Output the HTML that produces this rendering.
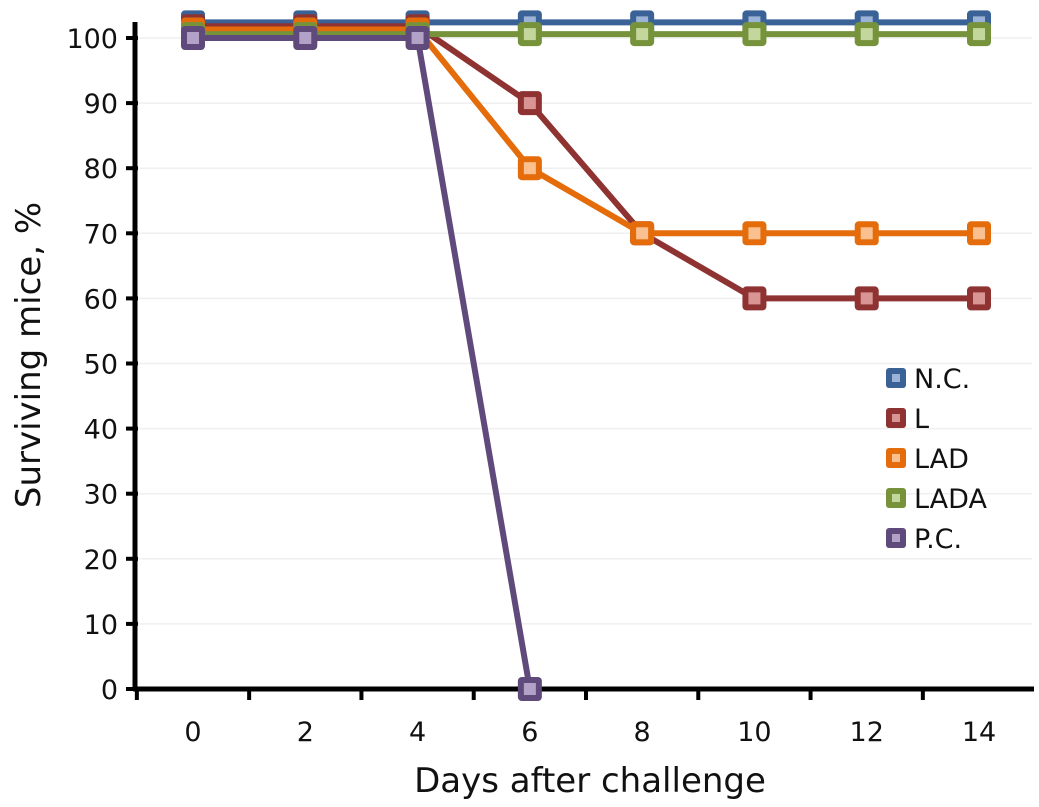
<!DOCTYPE html><html><head><meta charset="utf-8"><style>body{margin:0;background:#fff}svg{display:block;font-family:"DejaVu Sans","Liberation Sans",sans-serif}</style></head><body>
<svg id="c" width="1039" height="807"></svg>
<script>
const days=[0,2,4,6,8,10,12,14];
const yTicks=[0,10,20,30,40,50,60,70,80,90,100];
const seriesNames=["N.C.","L","LAD","LADA","P.C."];
const ncVals=[102.4,102.4,102.4,102.4,102.4,102.4,102.4,102.4];
const lVals=[101.8,101.8,101.8,90,70,60,60,60];
const ladVals=[101.3,101.3,101.3,80,70,70,70,70];
const ladaVals=[100.6,100.6,100.6,100.6,100.6,100.6,100.6,100.6];
const pcVals=[100,100,100,0];
const colors=["#3a6296","#8e3232","#e46c0a","#76933c","#5f4a7b"];
const inner=["#9bb3d6","#d99494","#fac090","#c3d69b","#b3a2c7"];
const S="http://www.w3.org/2000/svg",svg=document.getElementById('c');
const X=d=>193+d*(979-193)/14, Y=v=>689-v*(689-38)/100;
function el(t,a,p){const e=document.createElementNS(S,t);for(const k in a)e.setAttribute(k,a[k]);(p||svg).appendChild(e);return e;}
yTicks.forEach(v=>{if(v>0){const g=el('line',{x1:138,x2:1032,y1:Y(v),y2:Y(v),stroke:'#efefef','stroke-width':1.5});}
const t=el('line',{x1:126,x2:138,y1:Y(v),y2:Y(v),stroke:'#000','stroke-width':4});
const l=el('text',{x:118,y:Y(v)+10,'text-anchor':'end','font-size':27,fill:'#111'});l.textContent=v;});
const ya=el('line',{x1:135,x2:135,y1:22,y2:691,stroke:'#000','stroke-width':5});
const xa=el('line',{x1:133,x2:1034,y1:689,y2:689,stroke:'#000','stroke-width':5});
for(let i=0;i<=days.length;i++){const xx=X(days[0]-1+2*i);if(xx>1034)break;const t=el('line',{x1:xx,x2:xx,y1:689,y2:700,stroke:'#000','stroke-width':4});}
days.forEach(d=>{const l=el('text',{x:X(d),y:741,'text-anchor':'middle','font-size':27,fill:'#111'});l.textContent=d;});
const xt=el('text',{x:590,y:792,'text-anchor':'middle','font-size':34,fill:'#111'});xt.textContent='Days after challenge';
const yt=el('text',{x:0,y:0,transform:'translate(40,355) rotate(-90)','text-anchor':'middle','font-size':34,fill:'#111'});yt.textContent='Surviving mice, %';
const all=[ncVals,lVals,ladVals,ladaVals,pcVals];
all.forEach((vals,s)=>{const g=el('g',{});
const p=el('polyline',{points:vals.map((v,i)=>X(days[i])+','+Y(v)).join(' '),fill:'none',stroke:colors[s],'stroke-width':6,'stroke-linejoin':'round'},g);
vals.forEach((v,i)=>{const m=el('rect',{x:X(days[i])-12,y:Y(v)-12,width:24,height:24,rx:4,fill:colors[s]},g);
const n=el('rect',{x:X(days[i])-6,y:Y(v)-6,width:12,height:12,fill:inner[s]},g);});});
seriesNames.forEach((nm,s)=>{const y=378+s*40;const g=el('g',{});
el('rect',{x:886,y:y-10,width:20,height:20,rx:3,fill:colors[s]},g);el('rect',{x:892,y:y-4,width:8,height:8,fill:inner[s]},g);
const t=el('text',{x:914,y:y+10,'font-size':27,fill:'#111'},g);t.textContent=nm;});
</script></body></html>
